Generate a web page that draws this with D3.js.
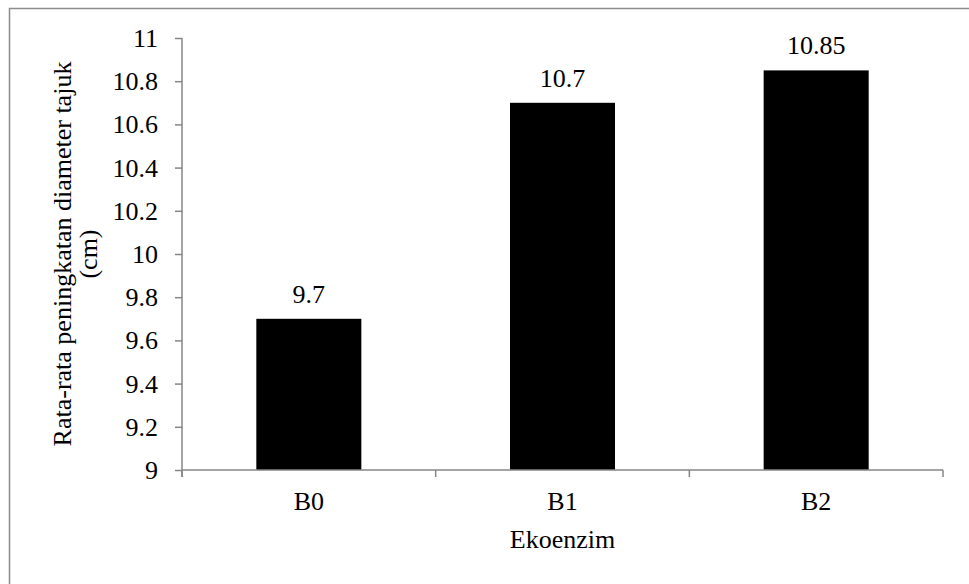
<!DOCTYPE html>
<html><head><meta charset="utf-8">
<script src="https://cdn.jsdelivr.net/npm/d3@7"></script>
<style>
html,body{margin:0;padding:0;background:#fff;}
</style></head>
<body><svg id="c" width="969" height="584"></svg>
<script>
const categories = ["B0","B1","B2"];
const values = [9.7, 10.7, 10.85];
const valueLabels = ["9.7","10.7","10.85"];
const yTicks = [9,9.2,9.4,9.6,9.8,10,10.2,10.4,10.6,10.8,11];
const xTitle = "Ekoenzim";
const yTitle = ["Rata-rata peningkatan diameter tajuk","(cm)"];

const FONT = "'Liberation Serif', 'Times New Roman', serif";
const svg = d3.select("#c");
const fs = 26;
const axisCol = "#868686";
// outer frame
svg.append("rect").attr("x",9.5).attr("y",8.5).attr("width",1000).attr("height",700)
  .attr("fill","none").attr("stroke","#8c8c8c").attr("stroke-width",1.5);

const pL=182, pR=943, pT=38, pB=470;
const x = d3.scaleBand().domain(categories).range([pL,pR]).paddingInner(0.586).paddingOuter(0.293);
const y = d3.scaleLinear().domain([9,11]).range([pB,pT]);

// bars
svg.selectAll("rect.bar").data(values).join("rect").attr("class","bar")
  .attr("x",(d,i)=>x(categories[i])).attr("width",x.bandwidth())
  .attr("y",d=>y(d)).attr("height",d=>y(9)-y(d)).attr("fill","#000");

// value labels
svg.selectAll("text.vl").data(values).join("text").attr("class","vl")
  .attr("x",(d,i)=>x(categories[i])+x.bandwidth()/2).attr("y",d=>y(d)-16)
  .attr("text-anchor","middle").text((d,i)=>valueLabels[i]);

// y axis
const yAxis = svg.append("g").attr("transform",`translate(${pL},0)`)
  .call(d3.axisLeft(y).tickValues(yTicks).tickSize(7).tickPadding(17).tickFormat(d=>String(+d.toFixed(1))));
yAxis.attr("font-family",null).attr("font-size",null);
yAxis.selectAll("path,line").attr("stroke",axisCol).attr("stroke-width",1.5);
yAxis.selectAll("path.domain").attr("d",`M0,${pT}V${pB+7}`);
yAxis.selectAll("text").attr("fill","#000").attr("dy","0.33em");

// x axis
const bounds = [0,1,2,3].map(i=>pL + (pR-pL)*i/categories.length);
const xg = svg.append("g");
xg.append("line").attr("x1",pL).attr("x2",pR).attr("y1",pB).attr("y2",pB)
  .attr("stroke",axisCol).attr("stroke-width",1.5);
xg.selectAll("line.t").data(bounds).join("line").attr("class","t")
  .attr("x1",d=>d).attr("x2",d=>d).attr("y1",pB).attr("y2",pB+7)
  .attr("stroke",axisCol).attr("stroke-width",1.5);
xg.selectAll("text").data(categories).join("text")
  .attr("x",d=>x(d)+x.bandwidth()/2).attr("y",510).attr("text-anchor","middle")
  .text(d=>d);

// titles
svg.append("text").attr("x",(pL+pR)/2).attr("y",548).attr("text-anchor","middle")
  .text(xTitle);
const yt = svg.append("text").attr("transform",`translate(63,${(pT+pB)/2}) rotate(-90)`)
  .attr("text-anchor","middle");
yTitle.forEach((t,i)=>yt.append("tspan").attr("x",0).attr("y",i*26+8).text(t));

svg.selectAll("text").style("font-family",FONT).style("font-size",fs+"px").style("fill","#000");
</script></body></html>
